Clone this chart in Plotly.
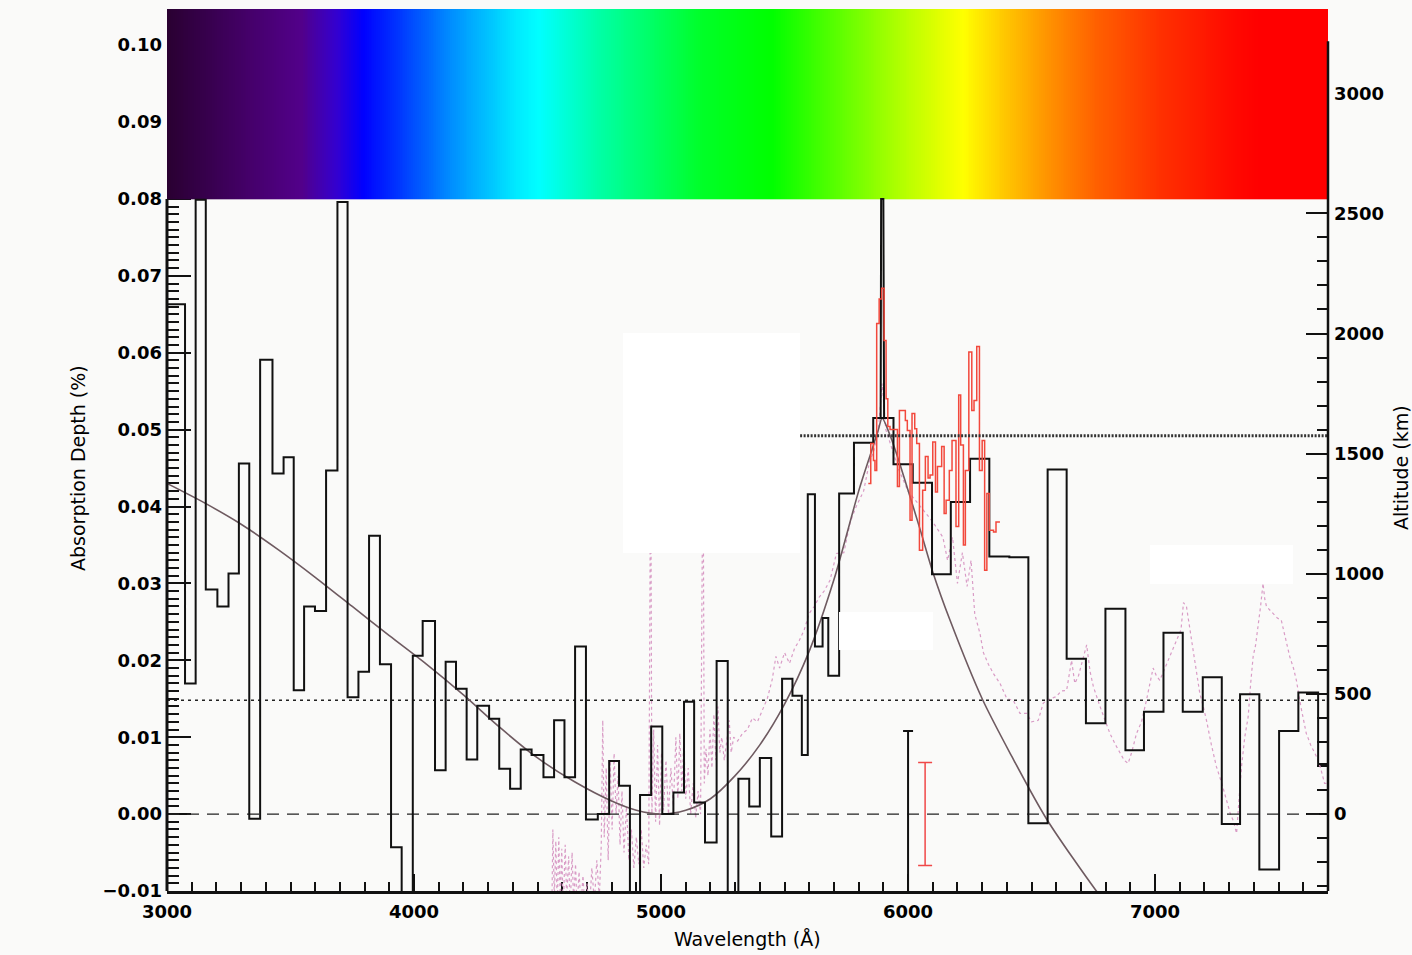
import numpy as np
import plotly.graph_objects as go

# ---------------- data ----------------
# black binned absorption depth (bin edges in Angstrom, depth as fraction in %)
hist_edges = [3000, 3073, 3116, 3157, 3204, 3249, 3291, 3333, 3377, 3427, 3472, 3513, 3555, 3599,
              3644, 3690, 3731, 3775, 3818, 3862, 3907, 3950, 3995, 4035, 4085, 4128, 4170, 4213,
              4256, 4304, 4345, 4389, 4432, 4476, 4524, 4567, 4609, 4652, 4696, 4744, 4790, 4830,
              4874, 4915, 4960, 5005, 5050, 5093, 5134, 5178, 5225, 5270, 5313, 5357, 5400, 5446,
              5490, 5532, 5570, 5594, 5623, 5654, 5677, 5721, 5781, 5859, 5941, 6019, 6097, 6173,
              6251, 6329, 6410, 6487, 6565, 6642, 6720, 6799, 6880, 6955, 7034, 7112, 7193, 7270,
              7344, 7422, 7502, 7580, 7660, 7700]
hist_depth = [0.0663, 0.0170, 0.0799, 0.0292, 0.0270, 0.0313, 0.0456, -0.0006, 0.0591, 0.0443,
              0.0464, 0.0161, 0.0270, 0.0264, 0.0447, 0.0796, 0.0152, 0.0185, 0.0362, 0.0195,
              -0.0043, -0.0150, 0.0206, 0.0251, 0.0057, 0.0198, 0.0163, 0.0071, 0.0141, 0.0124,
              0.0059, 0.0033, 0.0084, 0.0077, 0.0048, 0.0122, 0.0048, 0.0218, -0.0007, 0.0000,
              0.0069, 0.0037, -0.0150, 0.0025, 0.0114, 0.0000, 0.0028, 0.0146, 0.0015, -0.0037,
              0.0199, -0.0150, 0.0046, 0.0010, 0.0073, -0.0029, 0.0176, 0.0154, 0.0077, 0.0416,
              0.0218, 0.0255, 0.0180, 0.0417, 0.0483, 0.0515, 0.0455, 0.0431, 0.0312, 0.0406,
              0.0462, 0.0335, 0.0334, -0.0012, 0.0448, 0.0202, 0.0118, 0.0267, 0.0083, 0.0133,
              0.0236, 0.0133, 0.0178, -0.0013, 0.0156, -0.0072, 0.0108, 0.0158, 0.0065]

# red high-resolution Na region
red_edges = [5839, 5849, 5860, 5866, 5873, 5883, 5893, 5903, 5911, 5918, 5927, 5941, 5957, 5965,
             5976, 5989, 5997, 6008, 6016, 6027, 6035, 6046, 6059, 6070, 6081, 6089, 6100, 6111,
             6119, 6136, 6146, 6154, 6167, 6178, 6194, 6205, 6213, 6224, 6232, 6246, 6258, 6267,
             6278, 6289, 6300, 6310, 6319, 6329, 6346, 6356, 6372]
red_depth = [0.0430, 0.0482, 0.0460, 0.0447, 0.0638, 0.0670, 0.0684, 0.0616, 0.0540, 0.0504,
             0.0500, 0.0500, 0.0426, 0.0525, 0.0525, 0.0512, 0.0499, 0.0382, 0.0521, 0.0501,
             0.0482, 0.0343, 0.0421, 0.0465, 0.0437, 0.0441, 0.0484, 0.0419, 0.0452, 0.0478,
             0.0391, 0.0408, 0.0447, 0.0486, 0.0374, 0.0545, 0.0480, 0.0350, 0.0447, 0.0601,
             0.0525, 0.0538, 0.0608, 0.0447, 0.0486, 0.0317, 0.0417, 0.0369, 0.0367, 0.0380]

# narrow black Na D spike
spike_wl = [5889, 5891, 5900, 5903]
spike_depth = [0.0515, 0.0800, 0.0800, 0.0515]

# pink dotted high-resolution spectrum
pink_wl = [4558, 4562, 4568, 4574, 4580, 4586, 4592, 4598, 4604, 4612, 4618, 4626, 4632, 4640,
           4646, 4654, 4660, 4668, 4676, 4684, 4692, 4700, 4710, 4720, 4730, 4740, 4750, 4758,
           4764, 4770, 4778, 4786, 4794, 4802, 4810, 4818, 4826, 4834, 4842, 4850, 4860, 4870,
           4880, 4890, 4900, 4910, 4920, 4930, 4940, 4950, 4958, 4963, 4970, 4978, 4986, 4994,
           5002, 5010, 5020, 5030, 5040, 5050, 5060, 5068, 5076, 5084, 5092, 5100, 5110, 5120,
           5130, 5140, 5150, 5160, 5170, 5175, 5182, 5190, 5198, 5206, 5214, 5222, 5230, 5238,
           5246, 5256, 5266, 5276, 5284, 5294, 5310, 5330, 5350, 5370, 5390, 5410, 5430, 5450,
           5465, 5480, 5500, 5520, 5540, 5560, 5580, 5600, 5620, 5640, 5660, 5684, 5710, 5740,
           5766, 5790, 5820, 5845, 5860, 5880, 5895, 5910, 5930, 5960, 6000, 6050, 6100, 6141,
           6160, 6180, 6200, 6220, 6239, 6255, 6270, 6291, 6305, 6325, 6345, 6372, 6400, 6426,
           6453, 6480, 6500, 6527, 6547, 6561, 6580, 6601, 6620, 6642, 6662, 6675, 6690, 6705,
           6723, 6737, 6750, 6777, 6800, 6817, 6840, 6858, 6875, 6891, 6905, 6925, 6945, 6965,
           6980, 6992, 7005, 7019, 7040, 7060, 7075, 7087, 7105, 7115, 7127, 7140, 7154, 7170,
           7181, 7195, 7208, 7228, 7248, 7270, 7289, 7305, 7316, 7330, 7340, 7350, 7363, 7377,
           7387, 7397, 7407, 7417, 7427, 7437, 7444, 7451, 7465, 7478, 7495, 7511, 7528, 7545,
           7560, 7572, 7590, 7612, 7630, 7653, 7670, 7686, 7700]
pink_depth = [-0.0125, -0.0020, -0.0110, -0.0035, -0.0125, -0.0030, -0.0115, -0.0045, -0.0125,
              -0.0040, -0.0110, -0.0055, -0.0125, -0.0050, -0.0115, -0.0065, -0.0125, -0.0075,
              -0.0120, -0.0080, -0.0125, -0.0090, -0.0125, -0.0070, -0.0115, -0.0060, -0.0110,
              -0.0040, 0.0122, -0.0030, 0.0060, -0.0060, 0.0070, -0.0020, 0.0079, 0.0000, 0.0050,
              -0.0040, 0.0030, -0.0050, 0.0010, -0.0060, -0.0020, -0.0070, -0.0030, -0.0065,
              -0.0020, -0.0070, -0.0040, -0.0065, 0.0500, 0.0000, 0.0110, -0.0010, 0.0090,
              -0.0015, 0.0080, 0.0005, 0.0070, 0.0000, 0.0060, 0.0010, 0.0100, 0.0020, 0.0105,
              0.0030, 0.0095, 0.0020, 0.0060, 0.0000, 0.0040, -0.0005, 0.0030, 0.0000, 0.0500,
              0.0040, 0.0085, 0.0050, 0.0110, 0.0060, 0.0130, 0.0070, 0.0140, 0.0080, 0.0100,
              0.0070, 0.0095, 0.0122, 0.0080, 0.0100, 0.0095, 0.0105, 0.0110, 0.0125, 0.0120,
              0.0135, 0.0150, 0.0175, 0.0205, 0.0190, 0.0210, 0.0196, 0.0215, 0.0226, 0.0240,
              0.0261, 0.0270, 0.0282, 0.0290, 0.0304, 0.0339, 0.0340, 0.0380, 0.0400, 0.0420,
              0.0460, 0.0470, 0.0500, 0.0560, 0.0500, 0.0480, 0.0450, 0.0420, 0.0400, 0.0380,
              0.0360, 0.0330, 0.0360, 0.0300, 0.0340, 0.0296, 0.0330, 0.0260, 0.0235, 0.0210,
              0.0195, 0.0183, 0.0170, 0.0150, 0.0148, 0.0131, 0.0131, 0.0120, 0.0122, 0.0144,
              0.0148, 0.0150, 0.0153, 0.0160, 0.0161, 0.0200, 0.0170, 0.0180, 0.0200, 0.0220,
              0.0185, 0.0166, 0.0140, 0.0120, 0.0105, 0.0090, 0.0079, 0.0070, 0.0066, 0.0080,
              0.0105, 0.0120, 0.0148, 0.0170, 0.0190, 0.0180, 0.0174, 0.0190, 0.0205, 0.0215,
              0.0226, 0.0240, 0.0275, 0.0270, 0.0240, 0.0213, 0.0180, 0.0157, 0.0140, 0.0122,
              0.0090, 0.0062, 0.0040, 0.0018, 0.0000, -0.0008, -0.0025, 0.0020, 0.0062, 0.0100,
              0.0127, 0.0170, 0.0205, 0.0220, 0.0244, 0.0270, 0.0300, 0.0280, 0.0270, 0.0265,
              0.0260, 0.0255, 0.0252, 0.0230, 0.0205, 0.0190, 0.0174, 0.0140, 0.0105, 0.0090,
              0.0075, 0.0060, 0.0040, 0.0040]

# smooth model curve
fit_wl = [3000, 3150, 3300, 3450, 3600, 3750, 3900, 4050, 4200, 4350, 4500, 4650, 4800, 4900,
          5000, 5100, 5200, 5300, 5400, 5500, 5600, 5700, 5800, 5850, 5880, 5895, 5930, 5970,
          6050, 6100, 6170, 6300, 6420, 6560, 6760, 6800]
fit_depth = [0.0430, 0.0405, 0.0377, 0.0344, 0.0308, 0.0270, 0.0232, 0.0195, 0.0155, 0.0112,
             0.0073, 0.0042, 0.0017, 0.0005, 0.0000, 0.0005, 0.0020, 0.0050, 0.0090, 0.0143,
             0.0212, 0.0305, 0.0420, 0.0470, 0.0500, 0.0515, 0.0490, 0.0452, 0.0369, 0.0315,
             0.0252, 0.0150, 0.0075, -0.0006, -0.0099, -0.0115]

# reference levels
level_low = 0.0148        # dotted line (depth)
level_na_km = 1575        # dense dotted line (altitude)
level_na_start = 5563
errbar_wl = [6000, 6069]
errbar_size = [0.0108, 0.0067]

y_ticks = [-0.01, 0.00, 0.01, 0.02, 0.03, 0.04, 0.05, 0.06, 0.07, 0.08, 0.09, 0.10]
y_ticktext = ["\u22120.01", "0.00", "0.01", "0.02", "0.03", "0.04", "0.05", "0.06", "0.07",
              "0.08", "0.09", "0.10"]
x_ticks = [3000, 4000, 5000, 6000, 7000]
alt_ticks = [0, 500, 1000, 1500, 2000, 2500, 3000]

# ---------------- layout constants ----------------
X0, X1 = 3000, 7700
Y0, Y1 = -0.01, 0.1047
KM_PER_DEPTH = 32000.0
FONT = "DejaVu Sans"
BG = "#fafaf9"

fig = go.Figure()

# rainbow spectrum strip
spec_edges = np.linspace(X0, X1 + 10, 601)
spec_z = [np.linspace(0, 1, 600)]
rainbow = [
    [0.000, "#2a0032"], [0.070, "#45006a"], [0.115, "#52008a"], [0.145, "#3400d0"],
    [0.168, "#0000ff"], [0.200, "#0038ff"], [0.245, "#0090ff"], [0.300, "#00eaff"],
    [0.320, "#00ffff"], [0.370, "#00ffa8"], [0.420, "#00ff60"], [0.460, "#00ff28"],
    [0.520, "#00ff00"], [0.590, "#70ff00"], [0.630, "#b0ff00"], [0.685, "#ffff00"],
    [0.720, "#ffc800"], [0.760, "#ff9000"], [0.800, "#ff6000"], [0.855, "#ff3000"],
    [0.920, "#ff0800"], [0.940, "#ff0000"], [1.000, "#ff0000"]]
fig.add_trace(go.Heatmap(x=spec_edges, y=[0.0800, Y1 + 0.001], z=spec_z, zmin=0, zmax=1,
                         colorscale=rainbow, showscale=False, hoverinfo="skip"))

# pink dotted spectrum
fig.add_trace(go.Scatter(x=pink_wl, y=pink_depth, mode="lines",
                         line=dict(color="#d99cc6", width=1.2, dash="dot"), hoverinfo="skip"))

# zero dashed line and low dotted level
fig.add_trace(go.Scatter(x=[X0, X1], y=[0, 0], mode="lines",
                         line=dict(color="#222", width=1.4, dash="12px,8px")))
fig.add_trace(go.Scatter(x=[X0, X1], y=[level_low, level_low], mode="lines",
                         line=dict(color="#222", width=1.4, dash="3px,4px")))
# dense dotted Na level in altitude
fig.add_trace(go.Scatter(x=[level_na_start, X1], y=[level_na_km, level_na_km], mode="lines",
                         yaxis="y2", line=dict(color="#333", width=3, dash="2px,1.5px")))

# model curve
fig.add_trace(go.Scatter(x=fit_wl, y=fit_depth, mode="lines",
                         line=dict(color="#6e5a60", width=1.6, shape="spline", smoothing=0.8)))

# black histogram
fig.add_trace(go.Scatter(x=hist_edges, y=hist_depth + [hist_depth[-1]], mode="lines",
                         line=dict(color="#111", width=2, shape="hv")))

# Na spike
fig.add_trace(go.Scatter(x=spike_wl, y=spike_depth, mode="lines",
                         line=dict(color="#111", width=2)))

# red high-resolution histogram
fig.add_trace(go.Scatter(x=red_edges, y=red_depth + [red_depth[-1]], mode="lines",
                         line=dict(color="#f2483c", width=1.5, shape="hv")))

# error bars
fig.add_trace(go.Scatter(x=[errbar_wl[0]], y=[0], mode="markers", marker=dict(size=1, opacity=0),
                         error_y=dict(type="data", array=[errbar_size[0]], color="#111",
                                      thickness=2, width=5)))
fig.add_trace(go.Scatter(x=[errbar_wl[1]], y=[0], mode="markers", marker=dict(size=1, opacity=0),
                         error_y=dict(type="data", array=[errbar_size[1]], color="#f04848",
                                      thickness=1.5, width=7)))

tickfont = dict(family=FONT, size=18, color="#000", weight="bold")

fig.update_layout(
    width=1412, height=955, showlegend=False,
    margin=dict(l=167, r=84, t=9, b=64),
    paper_bgcolor=BG, plot_bgcolor=BG,
    xaxis=dict(range=[X0, X1], tickvals=x_ticks, ticks="inside", ticklen=17, tickwidth=2,
               tickcolor="#111", showline=True, linecolor="#111", linewidth=2.5,
               showgrid=False, zeroline=False, tickfont=tickfont, ticklabelstandoff=3,
               minor=dict(dtick=100, ticks="inside", ticklen=9, tickwidth=2, tickcolor="#111",
                          showgrid=False),
               layer="below traces"),
    yaxis=dict(range=[Y0, Y1], tickvals=y_ticks, ticktext=y_ticktext, ticks="inside",
               ticklen=24, tickwidth=2, tickcolor="#111", showline=False, showgrid=False,
               zeroline=False, tickfont=tickfont, ticklabelstandoff=4,
               minor=dict(dtick=0.001, ticks="inside", ticklen=12, tickwidth=2,
                          tickcolor="#111", showgrid=False),
               layer="below traces"),
    yaxis2=dict(overlaying="y", side="right", range=[Y0 * KM_PER_DEPTH, Y1 * KM_PER_DEPTH],
                tickvals=alt_ticks, ticks="inside", ticklen=22, tickwidth=2, tickcolor="#111",
                showline=False, showgrid=False, zeroline=False, tickfont=tickfont,
                ticklabelstandoff=5,
                minor=dict(dtick=100, ticks="inside", ticklen=11, tickwidth=2,
                           tickcolor="#111", showgrid=False),
                layer="below traces"),
)

# white boxes present in the original image
for (px0, py0, px1, py1) in [(623, 333, 800, 553), (839, 612, 933, 650), (1150, 545, 1293, 584)]:
    fig.add_shape(type="rect", xref="paper", yref="paper",
                  x0=(px0 - 167) / 1161, x1=(px1 - 167) / 1161,
                  y0=1 - (py1 - 9) / 882, y1=1 - (py0 - 9) / 882,
                  fillcolor="#ffffff", line=dict(width=0), layer="above")

# left and right axis lines (only below the spectrum strip)
fig.add_shape(type="line", xref="paper", yref="y", x0=0, x1=0, y0=Y0, y1=0.0800,
              line=dict(color="#111", width=3))
fig.add_shape(type="line", xref="paper", yref="y", x0=1, x1=1, y0=Y0, y1=0.1005,
              line=dict(color="#111", width=2.5))

# axis titles
titlefont = dict(family=FONT, size=19, color="#000")
fig.add_annotation(text="Wavelength (\u00c5)", xref="paper", yref="paper",
                   x=(747 - 167) / 1161, y=-(939 - 891) / 882, showarrow=False,
                   xanchor="center", yanchor="middle", font=titlefont)
fig.add_annotation(text="Absorption Depth (%)", xref="paper", yref="paper",
                   x=(78 - 167) / 1161, y=1 - (468 - 9) / 882, showarrow=False, textangle=-90,
                   xanchor="center", yanchor="middle", font=titlefont)
fig.add_annotation(text="Altitude (km)", xref="paper", yref="paper",
                   x=(1401 - 167) / 1161, y=1 - (468 - 9) / 882, showarrow=False, textangle=-90,
                   xanchor="center", yanchor="middle", font=titlefont)

fig.write_html("out.html")
